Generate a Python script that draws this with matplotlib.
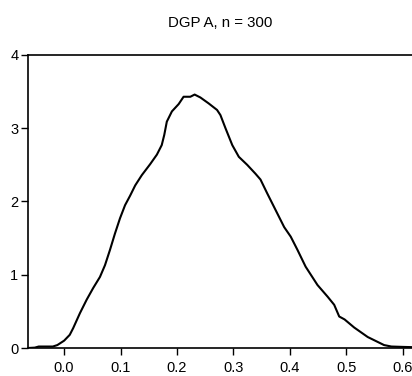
import numpy as np
import matplotlib
matplotlib.use("Agg")
import matplotlib.pyplot as plt

plt.rcParams['font.family'] = ['Liberation Sans', 'DejaVu Sans']

# density estimate
x_vals = [-0.064, -0.052, -0.045, -0.020, -0.012, 0.000, 0.010, 0.016, 0.028,
          0.040, 0.0516, 0.0635, 0.0724, 0.0813, 0.090, 0.099, 0.108, 0.117,
          0.126, 0.1377, 0.1525, 0.1644, 0.173, 0.1775, 0.182, 0.191, 0.203,
          0.2117, 0.2237, 0.2313, 0.2415, 0.256, 0.271, 0.277, 0.286, 0.298,
          0.3096, 0.3245, 0.339, 0.348, 0.360, 0.375, 0.390, 0.4016, 0.4135,
          0.428, 0.449, 0.467, 0.4786, 0.4875, 0.497, 0.514, 0.538, 0.567,
          0.580, 0.600, 0.625]
dens = [0.00, 0.005, 0.02, 0.02, 0.04, 0.10, 0.18, 0.27, 0.475,
        0.66, 0.82, 0.97, 1.13, 1.34, 1.56, 1.77, 1.95, 2.08,
        2.22, 2.36, 2.51, 2.64, 2.77, 2.91, 3.09, 3.23, 3.33,
        3.43, 3.43, 3.46, 3.42, 3.34, 3.25, 3.18, 3.00, 2.77,
        2.61, 2.50, 2.38, 2.30, 2.11, 1.88, 1.65, 1.52, 1.34,
        1.11, 0.86, 0.70, 0.59, 0.43, 0.39, 0.28, 0.15, 0.04,
        0.02, 0.015, 0.01]
x_ticks = [0.0, 0.1, 0.2, 0.3, 0.4, 0.5, 0.6]
y_ticks = [0, 1, 2, 3, 4]
title = "DGP A, n = 300"

fig = plt.figure(figsize=(4.12, 3.76), dpi=100)
ax = fig.add_axes([28 / 412, 1 - 348 / 376, 1 - 28 / 412, (348 - 55) / 376])
ax.plot(x_vals, dens, color='black', lw=1.5, solid_joinstyle='round')

ax.set_xlim(-0.064, 0.6165)
ax.set_ylim(0, 4)
ax.set_xticks(x_ticks)
ax.set_xticklabels([f"{t:.1f}" for t in x_ticks])
ax.set_yticks(y_ticks)
ax.spines['right'].set_visible(False)
for s in ['left', 'bottom', 'top']:
    ax.spines[s].set_linewidth(1.2)
ax.tick_params(axis='both', direction='out', length=5, width=1, labelsize=10.5, pad=2)
ax.tick_params(axis='x', pad=4)

fig.text(0.535, 0.94, title, ha='center', va='center', fontsize=10.8)
fig.savefig("out.png", dpi=100)
